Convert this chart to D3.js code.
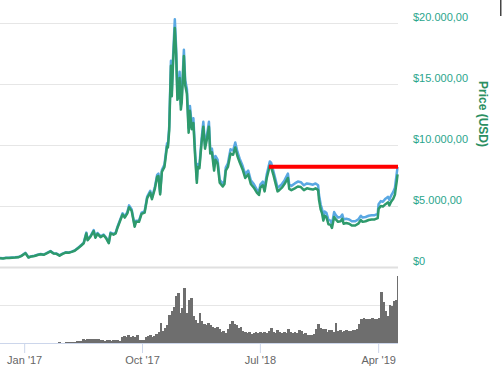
<!DOCTYPE html>
<html>
<head>
<meta charset="utf-8">
<script src="https://cdn.jsdelivr.net/npm/d3@7"></script>
<style>
  body { margin: 0; background: #fff; }
  svg { display: block; font-family: "Liberation Sans", Arial, sans-serif; }
</style>
</head>
<body>
<div id="chart"></div>
<script>
const width = 502;
const height = 382;

// price series (USD)
const priceDates = [
  "2016-11-06","2016-11-13","2016-11-20","2016-11-27","2016-12-04","2016-12-11","2016-12-18","2016-12-25",
  "2017-01-04","2017-01-11","2017-01-18","2017-01-25","2017-02-01","2017-02-08","2017-02-15","2017-02-22",
  "2017-03-03","2017-03-10","2017-03-17","2017-03-24","2017-03-31","2017-04-07","2017-04-14","2017-04-21",
  "2017-04-28","2017-05-05","2017-05-12","2017-05-19","2017-05-25","2017-05-28","2017-06-04","2017-06-11",
  "2017-06-15","2017-06-20","2017-06-27","2017-07-04","2017-07-10","2017-07-16","2017-07-20","2017-07-27",
  "2017-08-01","2017-08-05","2017-08-12","2017-08-17","2017-08-22","2017-08-28","2017-09-01","2017-09-07",
  "2017-09-14","2017-09-17","2017-09-24","2017-09-30","2017-10-07","2017-10-13","2017-10-20","2017-10-24",
  "2017-10-31","2017-11-05","2017-11-08","2017-11-12","2017-11-16","2017-11-22","2017-11-28","2017-11-30",
  "2017-12-03","2017-12-07","2017-12-09","2017-12-12","2017-12-16","2017-12-19","2017-12-22","2017-12-25",
  "2017-12-27","2017-12-30","2018-01-01","2018-01-06","2018-01-09","2018-01-13","2018-01-17","2018-01-20",
  "2018-01-24","2018-01-28","2018-02-01","2018-02-05","2018-02-07","2018-02-11","2018-02-16","2018-02-20",
  "2018-02-24","2018-02-28","2018-03-05","2018-03-08","2018-03-12","2018-03-17","2018-03-20","2018-03-25",
  "2018-03-30","2018-04-06","2018-04-10","2018-04-13","2018-04-18","2018-04-24","2018-04-30","2018-05-05",
  "2018-05-10","2018-05-15","2018-05-22","2018-05-28","2018-06-04","2018-06-10","2018-06-17","2018-06-24",
  "2018-06-29","2018-07-02","2018-07-08","2018-07-12","2018-07-17","2018-07-24","2018-07-27","2018-08-01",
  "2018-08-06","2018-08-11","2018-08-15","2018-08-21","2018-08-27","2018-09-04","2018-09-07","2018-09-12",
  "2018-09-20","2018-09-27","2018-10-04","2018-10-11","2018-10-18","2018-10-25","2018-11-01","2018-11-07",
  "2018-11-13","2018-11-15","2018-11-19","2018-11-22","2018-11-25","2018-11-28","2018-12-02","2018-12-07",
  "2018-12-12","2018-12-15","2018-12-20","2018-12-24","2018-12-29","2019-01-04","2019-01-08","2019-01-11",
  "2019-01-17","2019-01-24","2019-01-30","2019-02-07","2019-02-14","2019-02-20","2019-02-24","2019-03-03",
  "2019-03-10","2019-03-17","2019-03-24","2019-03-31","2019-04-02","2019-04-07","2019-04-12","2019-04-18",
  "2019-04-24","2019-04-27","2019-05-01","2019-05-06","2019-05-10","2019-05-12","2019-05-14","2019-05-16"
];

const bluePrices = [
  730,720,750,760,780,790,810,910,
  1160,800,890,920,1000,1070,1020,1140,
  1310,1130,1100,950,1090,1200,1190,1260,
  1360,1550,1760,2000,2820,2250,2560,3020,
  2460,2790,2510,2660,2400,2000,2820,2710,
  2820,3280,3950,4400,4150,4500,5050,4720,
  3400,3800,3800,4450,4560,5780,6250,5680,
  6600,7550,7650,6100,7950,8400,10150,10050,
  11500,16900,14400,17300,20300,18000,14200,14400,
  16000,13300,13900,17800,15300,14600,11400,13200,
  11700,12200,9400,7150,8450,8350,10500,11900,
  10000,10700,11900,9600,9700,8200,9100,8800,
  7150,6850,7050,8150,8500,9650,9550,10200,
  9450,8900,8300,7600,7900,7100,6800,6350,
  6150,6750,7000,6450,7600,8650,8550,7900,
  7200,6500,6600,6800,7100,7650,6750,6650,
  6850,7000,6950,6700,6850,6800,6750,6850,
  6700,5900,5100,4750,4150,4550,4450,3850,
  3800,3500,4500,4250,4050,4100,4300,3900,
  3950,3900,3750,3750,3900,4200,4050,4100,
  4200,4250,4250,4350,5150,5400,5350,5600,
  5750,5500,5850,6150,6500,7100,7650,8200
];

const greenPrices = [
  710,700,730,740,760,770,790,890,
  1130,780,870,900,980,1050,1000,1120,
  1280,1100,1080,930,1070,1180,1170,1240,
  1330,1520,1720,1950,2750,2200,2500,2950,
  2400,2720,2450,2600,2350,1950,2750,2650,
  2750,3200,3850,4300,4050,4400,4900,4600,
  3300,3700,3700,4350,4450,5650,6100,5550,
  6450,7400,7450,5950,7800,8200,9900,9800,
  11200,16500,14000,16800,19600,17500,13700,14000,
  15500,12900,13500,17300,14900,14200,11000,12800,
  11300,11800,9100,6900,8200,8100,10200,11500,
  9700,10400,11500,9300,9400,7900,8800,8500,
  6900,6600,6800,7900,8200,9300,9200,9800,
  9100,8600,8000,7300,7600,6800,6500,6100,
  5900,6500,6700,6200,7300,8300,8200,7600,
  6900,6200,6300,6500,6800,7300,6400,6300,
  6450,6600,6550,6300,6450,6400,6350,6450,
  6300,5500,4700,4400,3800,4200,4100,3500,
  3450,3200,4100,3900,3700,3750,3950,3550,
  3600,3550,3400,3400,3550,3850,3700,3750,
  3850,3900,3900,4000,4750,5000,4950,5150,
  5300,5050,5350,5600,5950,6500,7000,7600
];

// volume, one bar per 5 days from volumeStart (billions USD)
const volumeStart = "2016-11-06";
const volumes = [
  0.1,0.1,0.1,0.1,0.1,0.1,0.1,0.1,0.1,0.1,
  0.1,0.1,0.1,0.1,0.1,0.1,0.1,0.1,0.1,0.1,
  0.1,0.1,0.1,0.1,0.1,0.1,0.1,0.3,0.1,0.1,
  0.3,0.2,0.2,0.2,0.2,0.6,0.9,0.8,1.5,1.3,
  1.7,1.5,1.6,1.4,1.5,1.7,1.3,1.0,0.9,1.2,
  1.1,0.9,1.2,1.0,1.1,0.9,2.2,2.6,2.4,3.0,
  2.5,2.8,2.3,3.0,1.2,1.1,1.3,2.2,2.6,3.0,
  2.4,2.8,3.5,4.5,8.0,4.6,6.0,7.0,11.0,12.5,
  14.4,18.4,19.8,12.0,14.0,21.7,12.0,16.8,17.8,10.5,
  9.0,8.0,11.7,8.5,7.5,7.0,8.0,7.0,6.5,6.0,
  6.2,5.5,4.5,4.8,4.0,5.5,7.5,8.5,7.5,7.0,
  6.0,6.5,4.8,4.5,4.0,4.2,3.6,4.0,4.3,3.8,
  4.5,3.8,4.2,4.0,4.6,6.0,4.2,4.0,5.3,4.4,
  3.8,4.5,4.0,5.5,4.2,3.9,4.4,4.0,5.0,4.7,
  3.5,3.8,3.2,3.0,3.2,3.4,5.5,7.5,6.0,5.5,
  5.5,4.5,5.0,5.0,4.5,7.7,4.8,5.0,4.5,4.8,
  5.0,4.6,4.8,5.0,5.2,5.5,7.5,9.5,9.8,9.5,
  9.6,9.4,9.7,9.5,9.6,9.8,20.0,16.0,12.5,10.5,
  15.0,14.5,16.4,16.8,26.5
];

const yTicks = [0, 5000, 10000, 15000, 20000];
const xTickDates = ["2017-01-01", "2017-10-01", "2018-07-01", "2019-04-01"];
const xTickLabels = ["Jan '17", "Oct '17", "Jul '18", "Apr '19"];

// red horizontal marker
const markerFrom = "2018-07-22";
const markerTo = "2019-05-17";
const markerValue = 8220;

const parse = d3.utcParse("%Y-%m-%d");
const locale = d3.formatLocale({ decimal: ",", thousands: ".", grouping: [3], currency: ["$", ""] });
const fmtPrice = locale.format("$,.2f");

const plotRight = 398;

const x = d3.scaleUtc()
  .domain([parse("2016-11-06"), parse("2019-05-17")])
  .range([0, plotRight]);

const yPrice = d3.scaleLinear().domain([0, 20000]).range([267, 23]);
const yVol = d3.scaleLinear().domain([0, 30]).range([343, 267]);

const svg = d3.select("#chart").append("svg")
  .attr("width", width)
  .attr("height", height);

// price gridlines
svg.append("g").selectAll("line")
  .data(yTicks)
  .enter()
  .append("line")
  .attr("x1", 0).attr("x2", plotRight)
  .attr("y1", d => Math.round(yPrice(d)) + 0.5)
  .attr("y2", d => Math.round(yPrice(d)) + 0.5)
  .attr("stroke", d => d === 0 ? "#e0e0e0" : "#e6e6e6")
  .attr("stroke-width", d => d === 0 ? 2 : 1);

// volume gridline
svg.append("line")
  .attr("x1", 0).attr("x2", plotRight)
  .attr("y1", Math.round(yVol(15)) + 0.5)
  .attr("y2", Math.round(yVol(15)) + 0.5)
  .attr("stroke", "#e6e6e6");

// price labels
svg.append("g").selectAll("text")
  .data(yTicks)
  .enter()
  .append("text")
  .attr("x", 413)
  .attr("y", d => yPrice(d) - 2)
  .attr("fill", "#2aa58c")
  .style("font-size", "11px")
  .text(d => d === 0 ? "$0" : fmtPrice(d));

svg.append("text")
  .attr("transform", "translate(479, 114) rotate(90)")
  .attr("text-anchor", "middle")
  .attr("fill", "#2b8f62")
  .style("font-size", "12px")
  .style("font-weight", "bold")
  .text("Price (USD)");

// volume bars
const vStart = parse(volumeStart);
const volData = volumes.map((v, i) => ({ date: d3.utcDay.offset(vStart, i * 5), value: v }));

svg.append("g")
  .attr("shape-rendering", "crispEdges")
  .selectAll("rect")
  .data(volData)
  .enter()
  .append("rect")
  .attr("x", d => x(d.date))
  .attr("width", d => Math.min(x(d3.utcDay.offset(d.date, 5)) + 0.6, plotRight) - x(d.date))
  .attr("y", d => yVol(d.value))
  .attr("height", d => yVol(0) - yVol(d.value))
  .attr("fill", "#6e6e6e");

// x axis
const xAxis = d3.axisBottom(x)
  .tickValues(xTickDates.map(parse))
  .tickFormat((d, i) => xTickLabels[i])
  .tickSize(10)
  .tickPadding(3);

const gx = svg.append("g")
  .attr("transform", "translate(0, 343)")
  .call(xAxis);
gx.select(".domain").attr("stroke", "#ccd6eb").attr("d", `M0,0.5H${plotRight}`);
gx.selectAll(".tick line").attr("stroke", "#ccd6eb");
gx.selectAll(".tick text")
  .attr("fill", "#666666")
  .style("font-size", "11px")
  .style("font-family", "'Liberation Sans', Arial, sans-serif");

// price lines
const priceData = priceDates.map((d, i) => ({ date: parse(d), blue: bluePrices[i], green: greenPrices[i] }));

const lineBlue = d3.line().x(d => x(d.date)).y(d => yPrice(d.blue));
const lineGreen = d3.line().x(d => x(d.date)).y(d => yPrice(d.green));

svg.append("path")
  .datum(priceData)
  .attr("d", lineBlue)
  .attr("fill", "none")
  .attr("stroke", "#5aa8e3")
  .attr("stroke-width", 2.5)
  .attr("stroke-linejoin", "round");

svg.append("path")
  .datum(priceData)
  .attr("d", lineGreen)
  .attr("fill", "none")
  .attr("stroke", "#2e9a6c")
  .attr("stroke-width", 2.5)
  .attr("stroke-linejoin", "round");

// red marker
svg.append("line")
  .attr("x1", x(parse(markerFrom)))
  .attr("x2", x(parse(markerTo)))
  .attr("y1", yPrice(markerValue))
  .attr("y2", yPrice(markerValue))
  .attr("stroke", "#ff0000")
  .attr("stroke-width", 4);

// little edge mark top right
svg.append("rect")
  .attr("x", 500).attr("y", 0)
  .attr("width", 1.5).attr("height", 16)
  .attr("fill", "#444");
</script>
</body>
</html>
